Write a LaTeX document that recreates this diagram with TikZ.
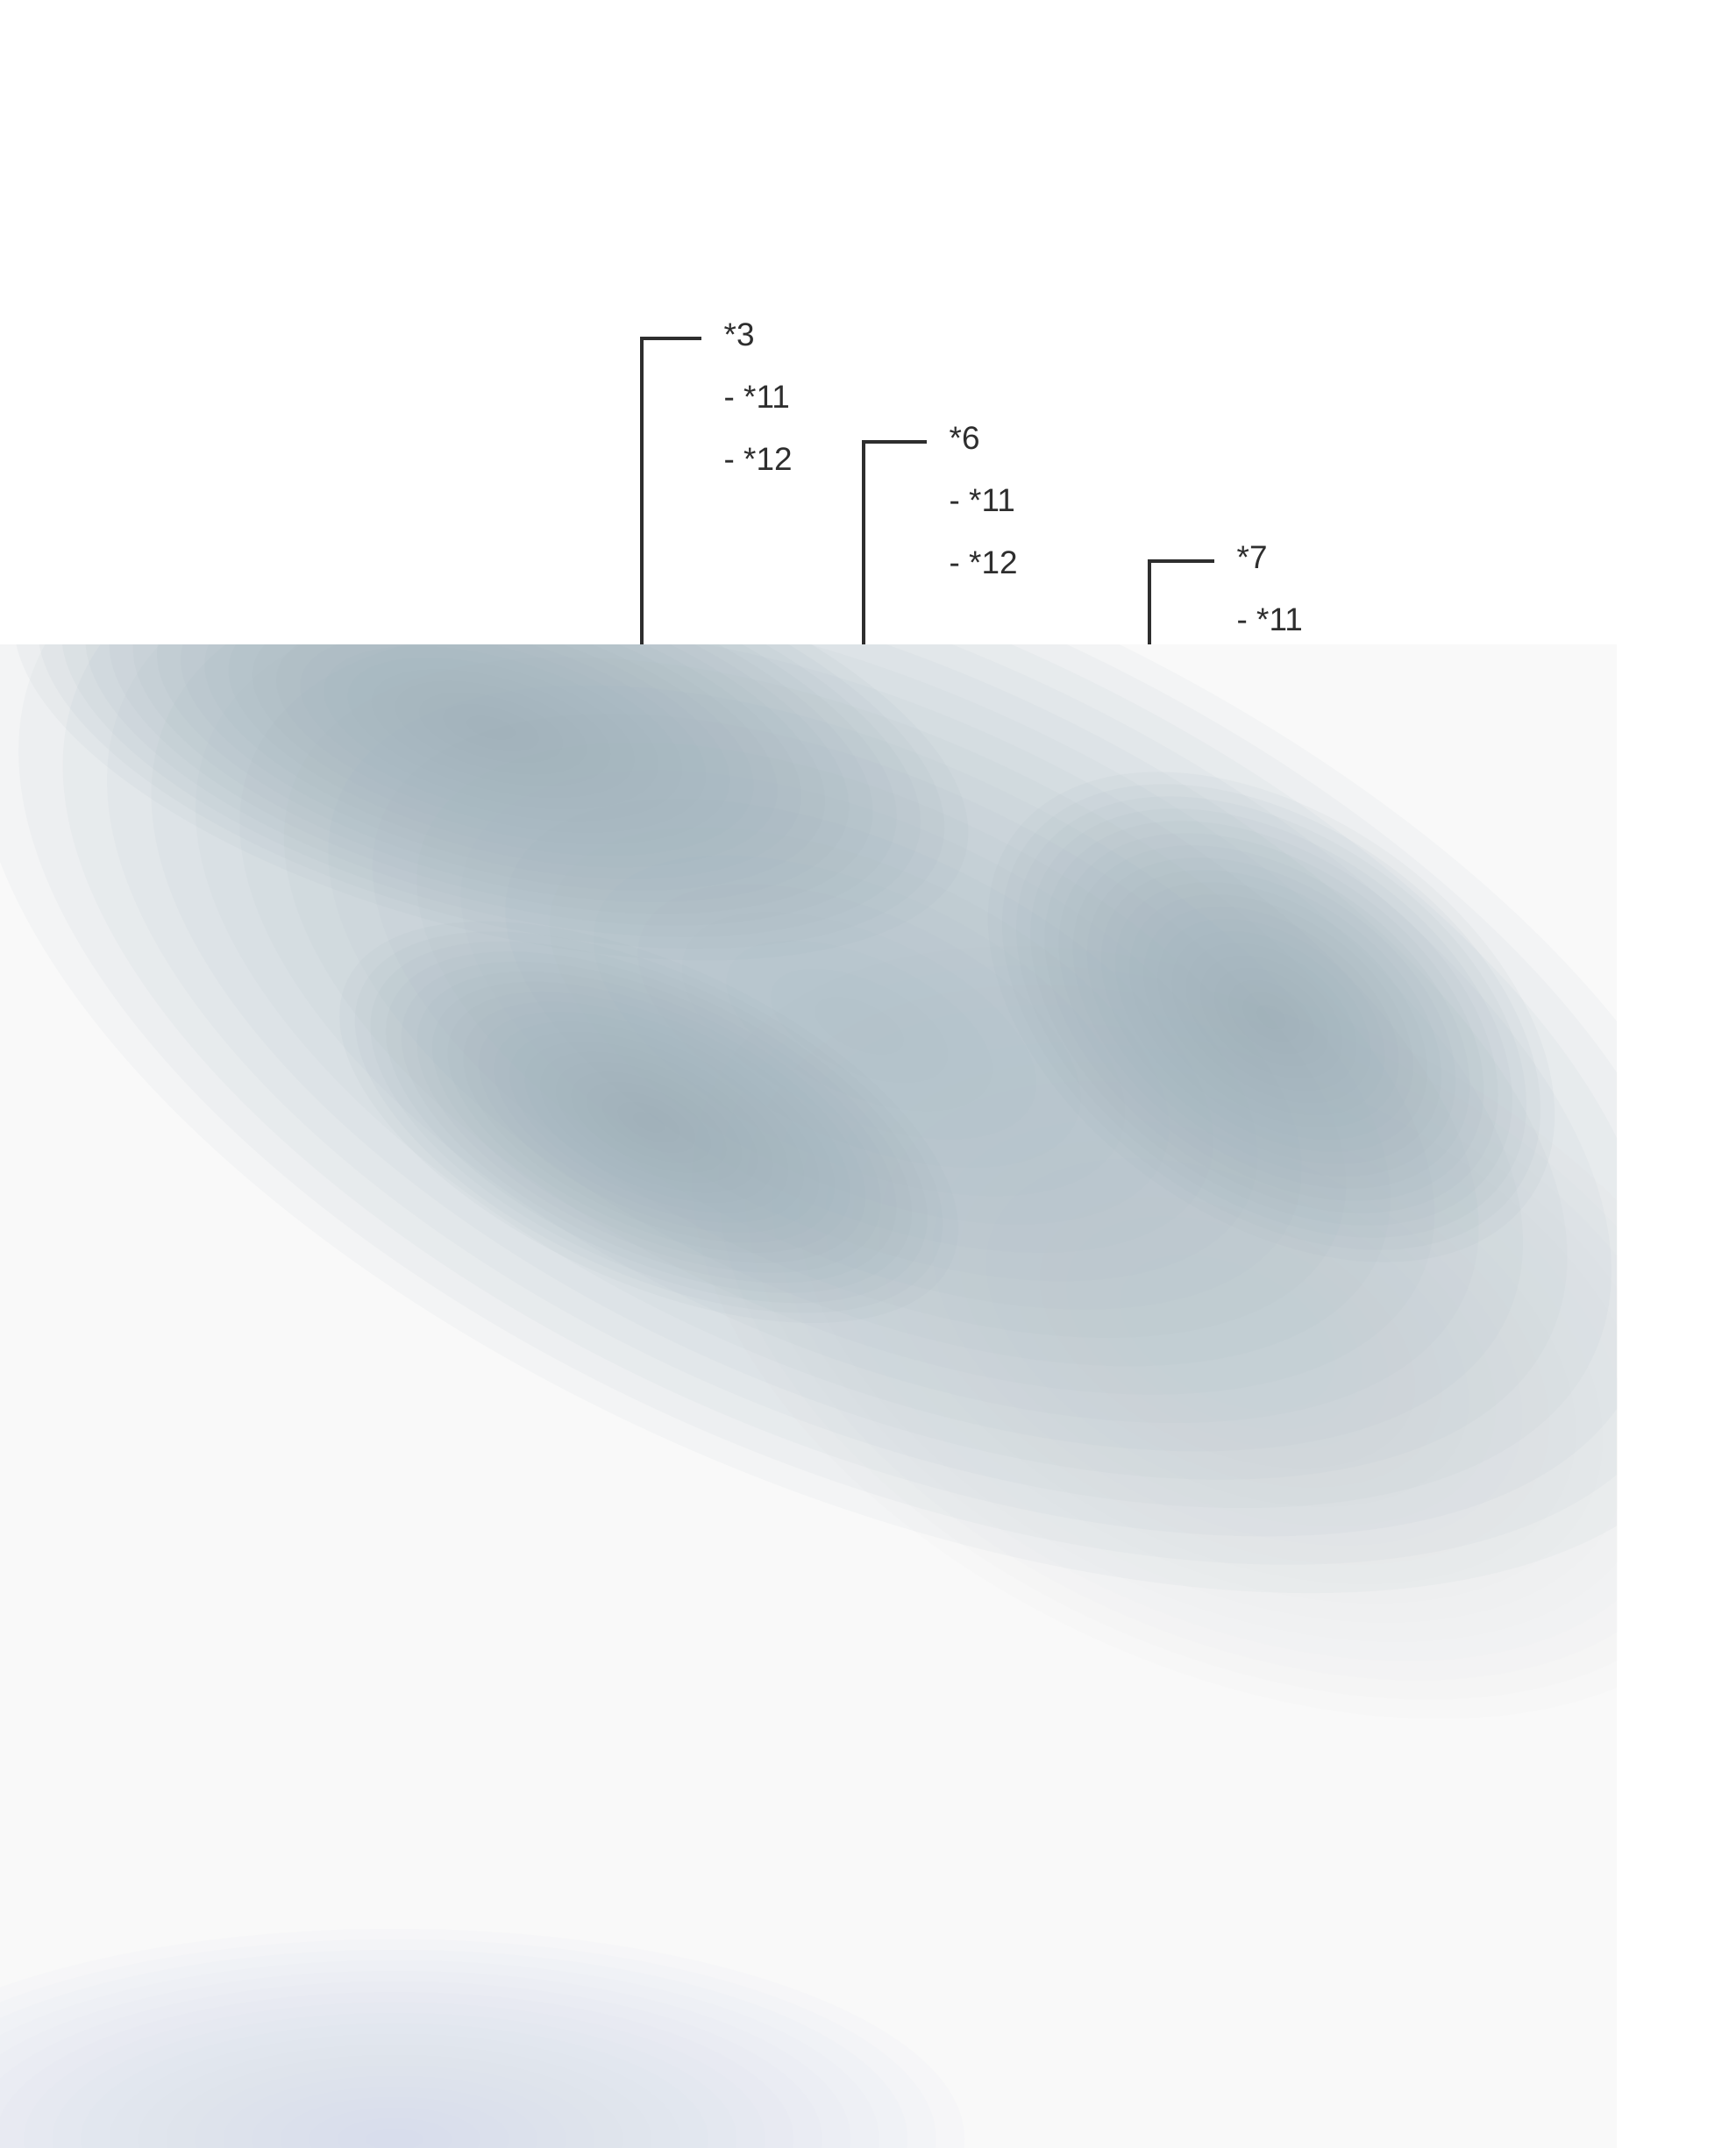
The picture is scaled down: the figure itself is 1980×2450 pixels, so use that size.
\documentclass[tikz,border=0pt]{standalone}
\usepackage{fontspec}
\setmainfont{Liberation Sans}
\usetikzlibrary{positioning}
\definecolor{bandgray}{HTML}{A9BBC5}
\definecolor{darkgray}{HTML}{9DB0BA}
\definecolor{hazeblue}{HTML}{D6DDEC}
\definecolor{hazegray}{HTML}{E4E7E9}
\definecolor{paper}{HTML}{F9F9F9}
\definecolor{inkgray}{HTML}{2E2E2E}
\tikzstyle{edge}=[
	-,
	draw=inkgray,
	line width=1.1pt
]
\tikzstyle{tlabel}=[
	inner sep=0pt,
	anchor=west,
	text=inkgray,
	font=\fontsize{10.5}{12}\selectfont
]
\tikzstyle{titem}=[
	tlabel,
	node distance=0.71cm
]
\tikzstyle{blob}=[
	opacity=0.075
]

\begin{document}
\begin{tikzpicture}[x=0.01cm, y=-0.01cm]
\useasboundingbox (0,0) rectangle (1980,2450);
\fill[white] (0,0) rectangle (1980,2450);

\foreach \n/\x/\y/\bx in {3/825/382/732, 6/1082/500/985, 7/1410/636/1311} {
    \node[tlabel] (h\n) at (\x,\y) {*\n};
    \coordinate (b\n) at (\bx,735);
    \draw[edge] (b\n) |- ([xshift=-0.25cm, yshift=-0.04cm]h\n.west);
}

\node[titem, below=of h3.west, anchor=west] (h3a) {- *11};
\node[titem, below=of h3a.west, anchor=west] (h3b) {- *12};
\node[titem, below=of h6.west, anchor=west] (h6a) {- *11};
\node[titem, below=of h6a.west, anchor=west] (h6b) {- *12};
\node[titem, below=of h7.west, anchor=west] (h7a) {- *11};

% blurred lower part
\begin{scope}
    \clip (0,735) rectangle (1844,2450);
    \fill[paper] (0,735) rectangle (1844,2450);
    \foreach \c/\cx/\cy/\rx/\ry/\a in {hazegray/1400/1520/650/380/-25,
            hazeblue/450/2440/650/240/0,
            bandgray/980/1170/1080/520/-24,
            darkgray/560/830/560/230/-15,
            darkgray/1450/1160/360/230/-35,
            darkgray/740/1280/380/180/-25} {
        \foreach \k in {1,...,20} {
            \fill[\c, blob, rotate around={\a:(\cx,\cy)}]
                (\cx,\cy) ellipse [x radius={\rx/20*(21-\k)}, y radius={\ry/20*(21-\k)}];
        }
    }
\end{scope}

\end{tikzpicture}
\end{document}
